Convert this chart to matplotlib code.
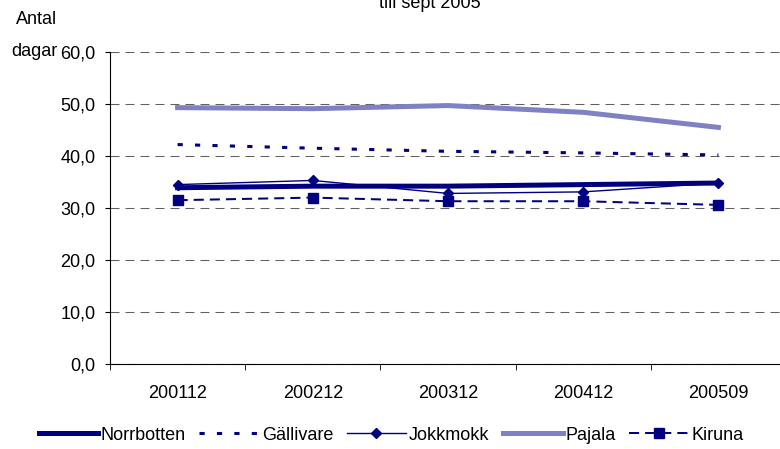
import matplotlib.pyplot as plt
import numpy as np

plt.rcParams['font.family'] = ['Liberation Sans', 'DejaVu Sans']

categories = ['200112', '200212', '200312', '200412', '200509']
norrbotten = [33.9, 34.2, 34.2, 34.5, 34.8]
gallivare = [42.2, 41.5, 40.9, 40.6, 40.2]
jokkmokk = [34.5, 35.3, 32.8, 33.1, 34.8]
pajala = [49.3, 49.1, 49.7, 48.4, 45.5]
kiruna = [31.5, 32.0, 31.3, 31.3, 30.6]
yticks = [0, 10, 20, 30, 40, 50, 60]

navy = '#000080'
W, H = 780, 449
fs = 13

fig = plt.figure(figsize=(W/100, H/100), dpi=100)
# axes: y axis at x=110px, bottom at 364px, top at 52px, runs past right edge
ax = fig.add_axes([110/W, 1-364/H, 676/W, (364-52)/H])

x = np.arange(len(categories))
ax.plot(x, norrbotten, color=navy, lw=3.6, label='Norrbotten', zorder=4)
ax.plot(x, gallivare, color=navy, lw=2.2, ls=(0, (1.7, 4.0)), label='Gällivare', zorder=3)
ax.plot(x, jokkmokk, color=navy, lw=1.0, marker='D', ms=5.5, label='Jokkmokk', zorder=5)
ax.plot(x, pajala, color='#8080C4', lw=3.6, label='Pajala', zorder=3)
ax.plot(x, kiruna, color=navy, lw=1.45, ls=(0, (5, 3)), marker='s', ms=6.5,
        label='Kiruna', zorder=5)

ax.set_xlim(-0.5, 4.5)
ax.set_ylim(0, 60)
ax.set_yticks(yticks)
ax.set_yticklabels(['%d,0' % v for v in yticks], fontsize=fs)
ax.yaxis.grid(True, color='#606060', ls=(0, (8.6, 5.8)), lw=0.75)
ax.set_axisbelow(True)

ax.set_xticks(x)
ax.set_xticklabels(categories, fontsize=fs)
ax.tick_params(axis='x', length=0, pad=15)
ax.set_xticks(np.arange(-0.5, 5.0, 1), minor=True)
ax.tick_params(axis='x', which='minor', length=4.5, direction='out')
ax.tick_params(axis='y', length=3.6, direction='out', pad=7)

ax.spines['right'].set_visible(False)
ax.spines['top'].set_visible(False)

fig.text(430/W, 1-8/H, 'till sept 2005', ha='center', va='baseline', fontsize=fs)
fig.text(16/W, 1-20/H, 'Antal', ha='left', va='center', fontsize=fs)
fig.text(11/W, 1-51/H, 'dagar', ha='left', va='center', fontsize=fs)

fig.legend(loc='center', bbox_to_anchor=(391/W, 1-435/H), ncol=5, frameon=False,
           fontsize=fs, handlelength=3.3, handletextpad=0.15, columnspacing=0.75)

fig.savefig('out.png', dpi=100)
